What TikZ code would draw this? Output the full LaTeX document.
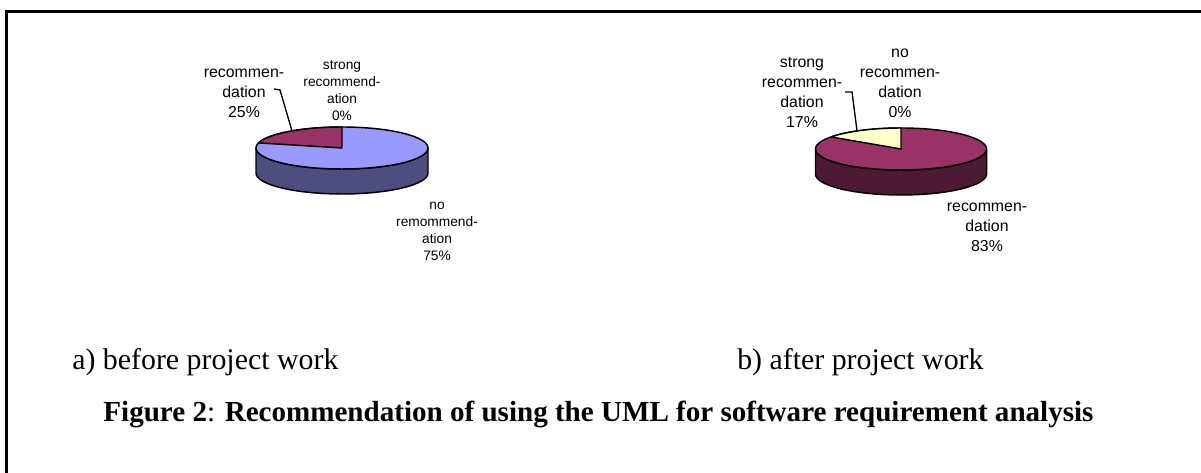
\documentclass[tikz,border=0pt]{standalone}
\usepackage{fontspec}
\setmainfont{Liberation Serif}
\newfontfamily\chartfont{Liberation Sans}
\begin{document}
\begin{tikzpicture}[x=0.75pt,y=0.75pt,
  edge/.style={draw=black,line width=1.1pt,line join=round},
  leader/.style={draw=black,line width=1pt},
  biglabel/.style={align=center,inner sep=0pt,font=\chartfont\fontsize{11.9}{15}\selectfont},
  smalllabel/.style={align=center,inner sep=0pt,font=\chartfont\fontsize{10.3}{12.75}\selectfont},
  subcap/.style={anchor=west,inner sep=0pt,font=\fontsize{22.4}{26}\selectfont},
  figcap/.style={inner sep=0pt,font=\bfseries\fontsize{21.8}{26}\selectfont},
  frame/.style={draw=black,line width=2.2pt}]
\useasboundingbox (0,0) rectangle (1201,473);

% outer frame (top and left edges)
\draw[frame] (6.5,0) -- (6.5,461.5) -- (1201,461.5);

% ---- pie a) before project work ----
\colorlet{blueTop}{rgb,255:red,153;green,153;blue,255}
\colorlet{blueSide}{rgb,255:red,77;green,77;blue,128}
\colorlet{plum}{rgb,255:red,153;green,51;blue,102}
\colorlet{plumSide}{rgb,255:red,77;green,26;blue,51}
\colorlet{cream}{rgb,255:red,255;green,255;blue,204}

\path[edge,fill=blueSide] (256,325) -- ++(0,-25)
  arc[start angle=180,end angle=360,x radius=86,y radius=21] -- ++(0,25)
  arc[start angle=0,end angle=-180,x radius=86,y radius=21] -- cycle;
\path[edge,fill=blueTop] (342,325) ellipse[x radius=86,y radius=21];
\path[edge,fill=plum] (342,325) -- (342,346)
  arc[start angle=90,end angle=166,x radius=86,y radius=21] -- cycle;

\node[biglabel] (recA) at (244,380) {recommen-\\dation\\25\%};
\node[smalllabel] (strongA) at (342,382) {strong\\recommend-\\ation\\0\%};
\node[smalllabel] (noA) at (437,241.5) {no\\remommend-\\ation\\75\%};
\coordinate (recAtip) at (292,342);
\draw[leader] (274,384) -- (280,383) -- (recAtip);

% ---- pie b) after project work ----
\path[edge,fill=plumSide] (815.5,324) -- ++(0,-25)
  arc[start angle=180,end angle=360,x radius=85.5,y radius=21] -- ++(0,25)
  arc[start angle=0,end angle=-180,x radius=85.5,y radius=21] -- cycle;
\path[edge,fill=plum] (901,324) ellipse[x radius=85.5,y radius=21];
\path[edge,fill=cream] (901,324) -- (901,345)
  arc[start angle=90,end angle=145,x radius=85.5,y radius=21] -- cycle;

\node[biglabel] (strongB) at (802,380.5) {strong\\recommen-\\dation\\17\%};
\node[biglabel] (noB) at (900,389.5) {no\\recommen-\\dation\\0\%};
\node[biglabel] (recB) at (987,246) {recommen-\\dation\\83\%};
\coordinate (strongBtip) at (857,342);
\draw[leader] (845,381) -- (852,381) -- (strongBtip);

% ---- captions ----
\node[subcap] (capA) at (72,111) {a) before project work};
\node[subcap] (capB) at (737,111) {b) after project work};
\node[figcap] (fig) at (598.5,59) {Figure 2\textmd{:} Recommendation of using the UML for software requirement analysis};
\end{tikzpicture}
\end{document}
